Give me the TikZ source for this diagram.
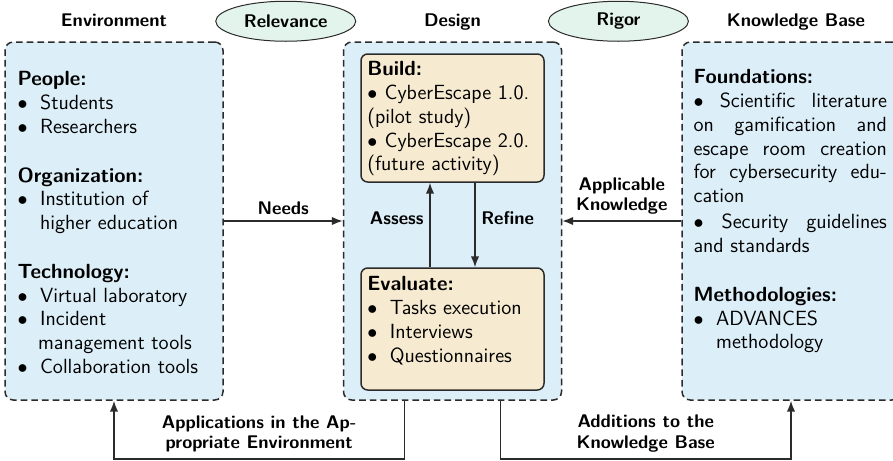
\documentclass[tikz,border=0pt]{standalone}
\usepackage{tikz}
\usetikzlibrary{shapes,arrows.meta,positioning,calc}

\definecolor{areablue}{HTML}{DCEEF7}
\definecolor{stagebeige}{HTML}{F6EAD0}
\definecolor{ovalgreen}{HTML}{E2F4EC}
\definecolor{linegray}{HTML}{2B2B2B}

\newlength{\kbwidth}
\setlength{\kbwidth}{116pt}
\newcommand{\itm}[1][1.1em]{\makebox[#1][l]{$\bullet$}}
\newcommand{\jline}[1]{\makebox[\kbwidth][s]{#1}}

\begin{document}
\begin{tikzpicture}[
    node distance=71.4pt,
    areabox/.style={rectangle, draw=linegray, line width=0.9pt, dash pattern=on 4pt off 2.4pt, rounded corners=5pt, fill=areablue, minimum width=130.8pt, minimum height=214.8pt, inner sep=0pt},
    stagebox/.style={rectangle, draw=linegray, line width=0.9pt, rounded corners=4pt, fill=stagebeige, minimum width=109.8pt, inner sep=0pt},
    ovalbox/.style={ellipse, draw=linegray, line width=0.6pt, fill=ovalgreen, minimum width=84pt, minimum height=24pt, font=\sffamily\bfseries\fontsize{11}{13}\selectfont},
    bodytext/.style={align=left, inner sep=0pt, font=\sffamily\fontsize{12.3}{14.25}\selectfont},
    headtext/.style={anchor=base, inner sep=0pt, font=\sffamily\bfseries\fontsize{11}{13}\selectfont},
    lbl/.style={align=center, font=\sffamily\bfseries\fontsize{11}{12.5}\selectfont},
    arrow/.style={-{Latex[length=6.5pt,width=5pt]}, draw=linegray, line width=0.9pt}
]
\useasboundingbox (0,0) rectangle (535.8pt,-276pt);

\node[areabox] (env) at (68.4pt,-132.6pt) {};
\node[areabox, right=of env] (design) {};
\node[areabox, right=of design] (kb) {};

\node[headtext] (envtitle) at ($(env.north)+(0,9pt)$) {Environment};
\node[headtext] (designtitle) at ($(design.north)+(0,9pt)$) {Design};
\node[headtext] (kbtitle) at ($(kb.north)+(3pt,9pt)$) {Knowledge Base};

\node[ovalbox] (relevance) at ($(env.north east)!.5!(design.north west)+(1.5pt,12pt)$) {Relevance};
\node[ovalbox] (rigor) at ($(design.north east)!.5!(kb.north west)+(-2pt,12pt)$) {Rigor};

\node[stagebox, minimum height=76.8pt, below=7.2pt of design.north] (build) {};
\node[stagebox, minimum height=73.2pt, above=6pt of design.south] (eval) {};

\node[bodytext, below right=18pt and 7.8pt of env.north west] (envtext) {%
\textbf{People:}\\
\itm Students\\
\itm Researchers\\[15pt]
\textbf{Organization:}\\
\itm Institution of\\
\hspace*{1.1em}higher education\\[15pt]
\textbf{Technology:}\\
\itm Virtual laboratory\\
\itm Incident\\
\hspace*{1em}management tools\\
\itm Collaboration tools};

\node[bodytext, below right=4.8pt and 4pt of build.north west] (buildtext) {%
\textbf{Build:}\\
\itm[0.85em]CyberEscape 1.0.\\
(pilot study)\\
\itm[0.85em]CyberEscape 2.0.\\
(future activity)};

\node[bodytext, below right=5.4pt and 4pt of eval.north west] (evaltext) {%
\textbf{Evaluate:}\\
\itm Tasks execution\\
\itm Interviews\\
\itm Questionnaires};

\node[bodytext, below right=16.8pt and 7.2pt of kb.north west] (kbtext) {%
\textbf{Foundations:}\\
\jline{$\bullet$\ Scientific literature}\\
\jline{on gamification and}\\
\jline{escape room creation}\\
\jline{for cybersecurity edu-}\\
cation\\[1.5pt]
\jline{$\bullet$\ Security guidelines}\\
and standards\\[15pt]
\textbf{Methodologies:}\\
\itm ADVANCES\\
\hspace*{1.1em}methodology};

\draw[arrow] (env) -- node[lbl, above] {Needs} (design);
\draw[arrow] (kb) -- node[lbl, above] {Applicable\\Knowledge} (design);
\draw[arrow] ([xshift=-13.5pt]eval.north) -- node[lbl, left, pos=.58] {Assess} ([xshift=-13.5pt]build.south);
\draw[arrow] ([xshift=13.5pt]build.south) -- node[lbl, right, pos=.42] {Refine} ([xshift=13.5pt]eval.north);
\draw[arrow] ([xshift=-28.8pt]design.south) -- ++(0,-34.8pt) -| node[lbl, above, pos=.25] {Applications in the Ap-\\propriate Environment} (env.south);
\draw[arrow] ([xshift=28.8pt]design.south) -- ++(0,-34.8pt) -| node[lbl, above, pos=.25] {Additions to the\\Knowledge Base} (kb.south);

\end{tikzpicture}
\end{document}
